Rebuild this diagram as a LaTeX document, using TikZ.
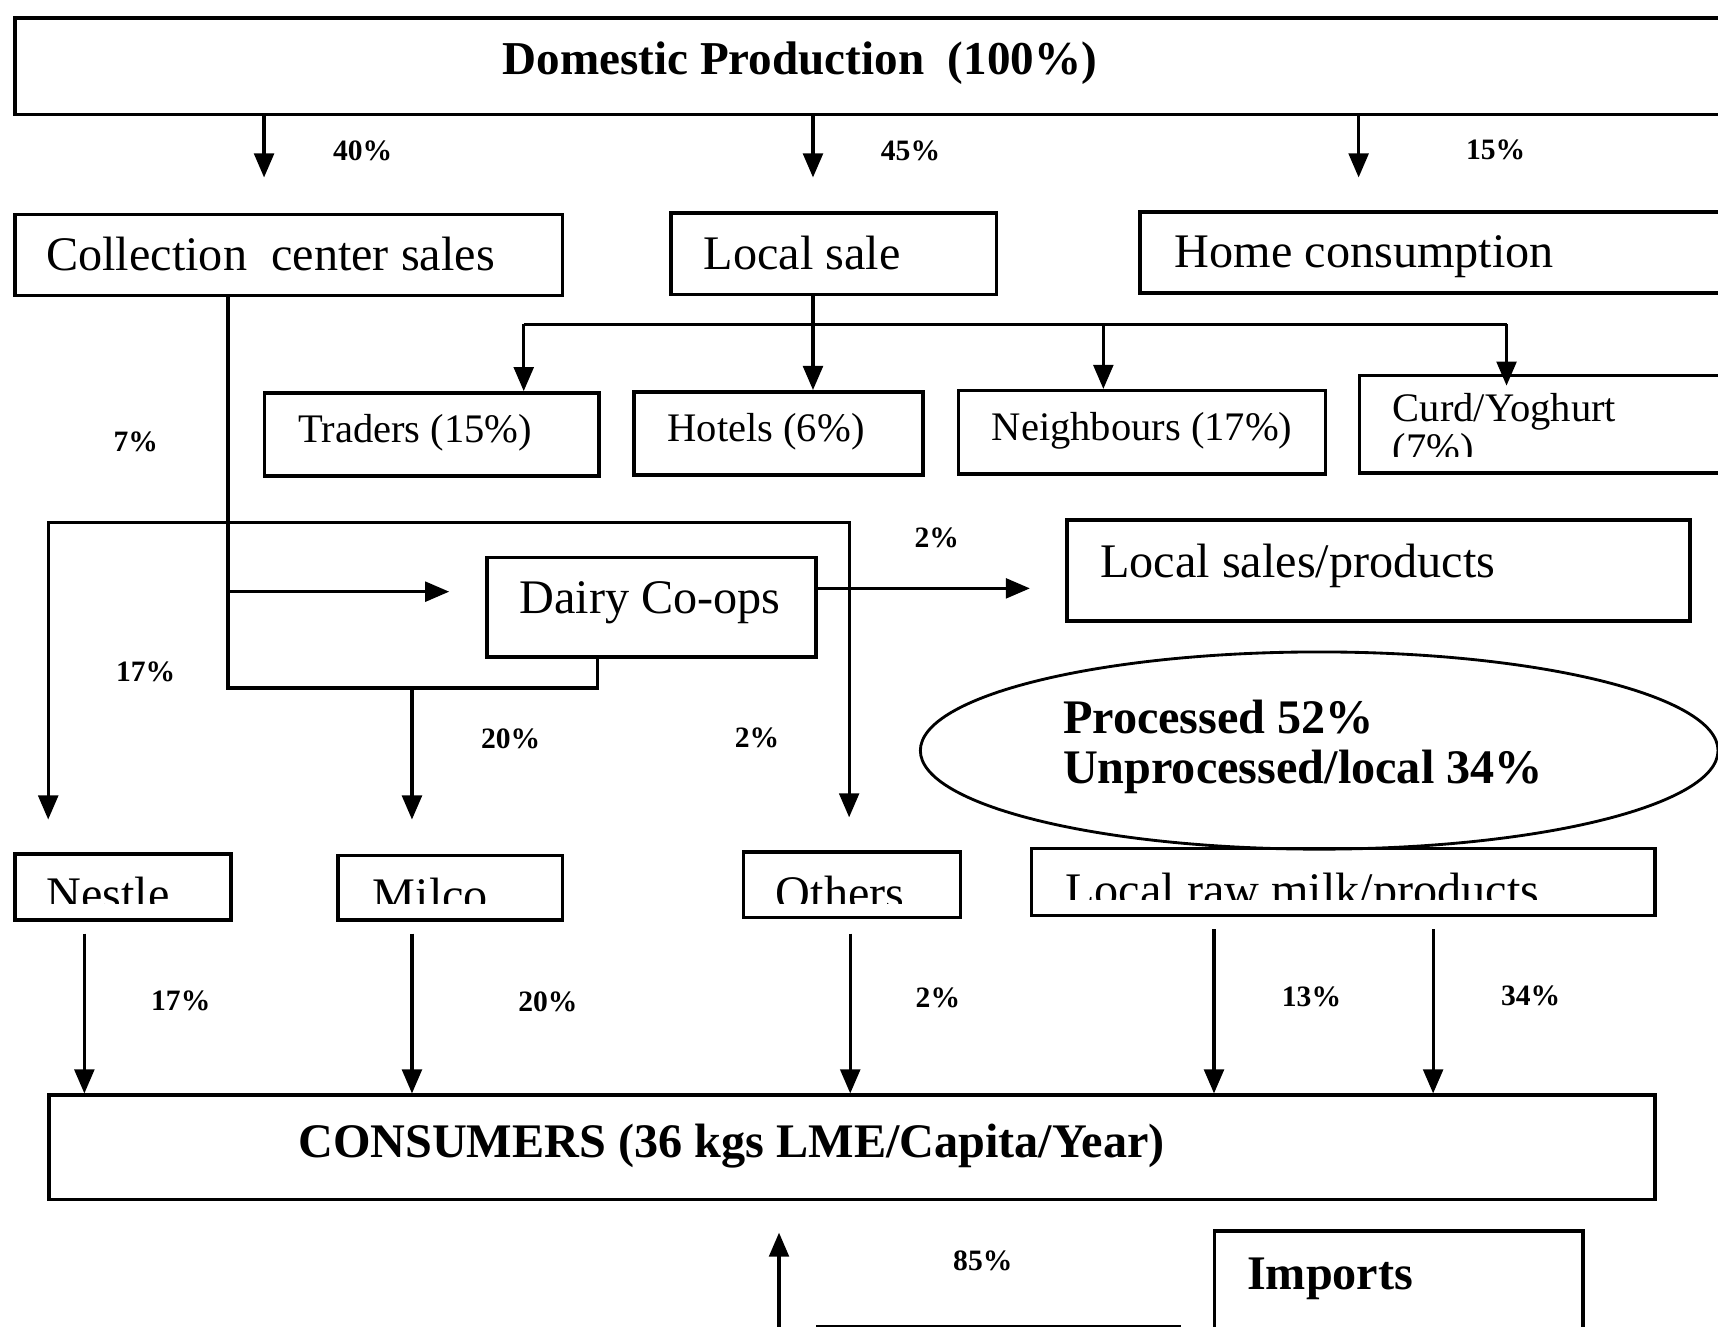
\documentclass[tikz,border=0pt]{standalone}
\usepackage{fontspec}
\setmainfont{Liberation Serif}
\usetikzlibrary{arrows.meta,shapes.geometric}
\begin{document}
\begin{tikzpicture}[x=1pt,y=-1pt,
  box/.style={draw, line width=3.2pt, inner sep=0pt, anchor=north west},
  conn/.style={line width=3pt},
  arr/.style={conn, -{Triangle[length=22pt,width=18pt]}},
  lbl/.style={font=\fontsize{27}{27}\selectfont\bfseries, inner sep=0pt},
  big/.style={font=\fontsize{44}{44}\selectfont, inner sep=0pt, anchor=base west},
  bigb/.style={font=\fontsize{44}{44}\selectfont\bfseries, inner sep=0pt, anchor=base west},
  mid/.style={font=\fontsize{37}{37}\selectfont, inner sep=0pt, anchor=base west},
]
\useasboundingbox (0,0) rectangle (1568,1211);
\clip (0,0) rectangle (1568,1211);

% boxes
\node[box, minimum width=1600pt, minimum height=88pt] (dp) at (12,15) {};
\node[box, minimum width=500pt, minimum height=74pt] (coll) at (12,194) {};
\node[box, minimum width=297pt, minimum height=74pt] (local) at (611,193) {};
\node[box, minimum width=600pt, minimum height=74pt] (home) at (1039,192) {};
\node[box, minimum width=305pt, minimum height=76pt] (traders) at (240,357) {};
\node[box, minimum width=264pt, minimum height=76pt] (hotels) at (577,356) {};
\node[box, minimum width=335pt, minimum height=76pt] (neigh) at (873,355) {};
\node[box, minimum width=400pt, minimum height=89pt] (curd) at (1239,341) {};
\node[box, minimum width=300pt, minimum height=91pt] (dairy) at (443,507) {};
\node[box, minimum width=569pt, minimum height=92pt] (lsp) at (972,473) {};
\node[box, minimum width=197pt, minimum height=60pt] (nestle) at (12,778) {};
\node[box, minimum width=205pt, minimum height=59pt] (milco) at (307,779) {};
\node[box, minimum width=198pt, minimum height=60pt] (others) at (677,776) {};
\node[box, minimum width=569pt, minimum height=61pt] (lrm) at (940,773) {};
\node[box, minimum width=1466pt, minimum height=95pt] (cons) at (43,998) {};
\node[box, minimum width=336pt, minimum height=200pt] (imports) at (1107,1122) {};
\node[box, minimum width=330pt, minimum height=100pt] (pbox) at (745,1209) {};
\node[draw, ellipse, line width=2.6pt, minimum width=728pt, minimum height=180pt, inner sep=0pt] (proc) at (1204,685) {};

% texts
\node[font=\fontsize{43}{43}\selectfont\bfseries, inner sep=0pt, anchor=base] (dpT) at (730,68) {Domestic Production\ \ (100\%)};
\node[big] (collT) at (42,247) {Collection\ \ center sales};
\node[big] (localT) at (642,246) {Local sale};
\node[big] (homeT) at (1072,244) {Home consumption};
\node[mid] (tradersT) at (272,404) {Traders (15\%)};
\node[mid] (hotelsT) at (609,403) {Hotels (6\%)};
\node[mid] (neighT) at (905,402) {Neighbours (17\%)};
\node[mid] (curdT) at (1271,385) {Curd/Yoghurt};
\begin{scope}
\clip (1239,395) rectangle (1568,417);
\node[mid] (curdT2) at (1271,421) {(7\%)};
\end{scope}
\node[big] (dairyT) at (474,560) {Dairy Co-ops};
\node[big] (lspT) at (1004,527) {Local sales/products};
\node[font=\fontsize{44}{44}\selectfont\bfseries, inner sep=0pt, anchor=base west] (procT1) at (970,669) {Processed 52\%};
\node[font=\fontsize{44}{44}\selectfont\bfseries, inner sep=0pt, anchor=base west] (procT2) at (970,715) {Unprocessed/local 34\%};
\begin{scope}
\clip (0,780) rectangle (1568,825);
\node[big] (nestleT) at (42,831) {Nestle};
\node[big] (milcoT) at (340,832) {Milco};
\node[big] (othersT) at (708,830) {Others};
\end{scope}
\begin{scope}
\clip (940,775) rectangle (1509,821);
\node[big] (lrmT) at (972,827) {Local raw milk/products};
\end{scope}
\node[bigb] (consT) at (272,1056) {CONSUMERS (36 kgs LME/Capita/Year)};
\node[bigb] (impT) at (1138,1177) {Imports};

% labels
\node[lbl] (p40) at (331,138) {40\%};
\node[lbl] (p45) at (831,138) {45\%};
\node[lbl] (p15) at (1365,137) {15\%};
\node[lbl] (p7) at (124,403) {7\%};
\node[lbl] (p2a) at (855,491) {2\%};
\node[lbl] (p17a) at (133,613) {17\%};
\node[lbl] (p20a) at (466,674) {20\%};
\node[lbl] (p2b) at (691,673) {2\%};
\node[lbl] (p17b) at (165,913) {17\%};
\node[lbl] (p20b) at (500,914) {20\%};
\node[lbl] (p2c) at (856,911) {2\%};
\node[lbl] (p13) at (1197,910) {13\%};
\node[lbl] (p34) at (1397,909) {34\%};
\node[lbl] (p85) at (897,1151) {85\%};

% coordinates
\coordinate (a1) at (241,162);
\coordinate (a2) at (742,162);
\coordinate (a3) at (1240,162);
\coordinate (b1) at (478,296);
\coordinate (b2) at (742,296);
\coordinate (b3) at (1007,296);
\coordinate (b4) at (1375,296);
\coordinate (c1) at (208,628);
\coordinate (c2) at (545,628);
\coordinate (c3) at (208,540);
\coordinate (c4) at (410,540);
\coordinate (d1) at (940,537);
\coordinate (l1) at (44,477);
\coordinate (l2) at (775,477);
\coordinate (n1) at (44,748);
\coordinate (o1) at (775,746);
\coordinate (m0) at (376,628);
\coordinate (m1) at (376,748);
\coordinate (e1) at (77,852);
\coordinate (e2) at (376,852);
\coordinate (e3) at (776,852);
\coordinate (e4) at (1108,848);
\coordinate (e5) at (1308,848);
\coordinate (u0) at (711,1215);
\coordinate (u1) at (711,1125);

% connectors
\draw[arr] (dp.south -| a1) -- (a1);
\draw[arr] (dp.south -| a2) -- (a2);
\draw[arr] (dp.south -| a3) -- (a3);
\draw[conn] (local.south -| b2) -- (b2);
\draw[conn] (b1) -- (b4);
\draw[arr] (b1) -- (b1 |- traders.north);
\draw[arr] (b2) -- (b2 |- hotels.north);
\draw[arr] (b3) -- (b3 |- neigh.north);
\draw[arr] (b4) -- ++(0,56);
\draw[conn] (coll.south -| c1) -- (c1) -- (c2) -- (c2 |- dairy.south);
\draw[arr] (c3) -- (c4);
\draw[arr] (dairy.east |- d1) -- (d1);
\draw[conn, {Triangle[length=22pt,width=18pt]}-{Triangle[length=22pt,width=18pt]}] (n1) -- (l1) -- (l2) -- (o1);
\draw[arr] (m0) -- (m1);
\draw[arr] (e1) -- (e1 |- cons.north);
\draw[arr] (e2) -- (e2 |- cons.north);
\draw[arr] (e3) -- (e3 |- cons.north);
\draw[arr] (e4) -- (e4 |- cons.north);
\draw[arr] (e5) -- (e5 |- cons.north);
\draw[arr] (u0) -- (u1);
\end{tikzpicture}
\end{document}
